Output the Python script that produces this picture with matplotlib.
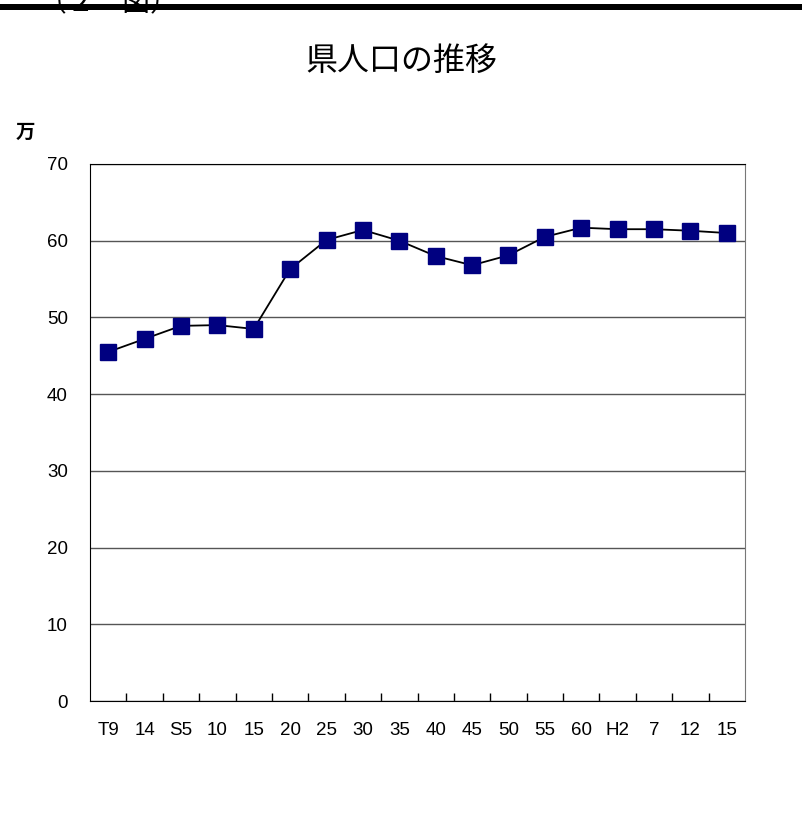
import numpy as np
import matplotlib.pyplot as plt
from matplotlib.patches import Rectangle

plt.rcParams['font.family'] = ['Liberation Sans', 'Noto Sans CJK JP', 'DejaVu Sans']

years = ['T9', '14', 'S5', '10', '15', '20', '25', '30', '35', '40',
         '45', '50', '55', '60', 'H2', '7', '12', '15']
population = [45.5, 47.2, 48.9, 49.0, 48.5, 56.3, 60.1, 61.4, 60.0, 58.0,
              56.8, 58.1, 60.5, 61.7, 61.5, 61.5, 61.3, 61.0]

fig = plt.figure(figsize=(8.02, 8.18), dpi=100)
ax = fig.add_axes([90/802, 1 - 701/818, 655/802, 537/818])

x = np.arange(len(years))
ax.plot(x, population, color='black', lw=1.3, marker='s', markersize=11,
        markerfacecolor='#000080', markeredgecolor='#000080', zorder=3)

ax.set_xlim(-0.5, len(years) - 0.5)
ax.set_ylim(0, 70)
ax.set_yticks(range(0, 71, 10))
ax.yaxis.grid(True, color='#555555', lw=1)
ax.set_axisbelow(True)
ax.tick_params(axis='y', length=0, labelsize=13.5, pad=16)

# ticks between categories, labels at centres
ax.set_xticks(x[:-1] + 0.5)
ax.set_xticklabels([])
ax.set_xticks(x, minor=True)
ax.set_xticklabels(years, minor=True, fontsize=13.5)
ax.tick_params(axis='x', which='major', direction='in', length=6, width=1)
ax.tick_params(axis='x', which='minor', length=0, pad=15)

for side in ['left', 'bottom', 'top']:
    ax.spines[side].set_color('black')
ax.spines['right'].set_color('#777777')

fig.text(0.5, 1 - 62/818, '県人口の推移', ha='center', va='center', fontsize=23)
fig.text(25/802, 1 - 133/818, '万', ha='center', va='center', fontsize=14, fontweight='bold')

# cut-off header band at the very top
fig.add_artist(Rectangle((0, 1 - 10/818), 1, 6/818, transform=fig.transFigure,
                         color='black', lw=0))
fig.text(108/802, 1 - 4/818, '（２　図）', ha='center', va='center', fontsize=20)

fig.savefig('out.png', dpi=100)
